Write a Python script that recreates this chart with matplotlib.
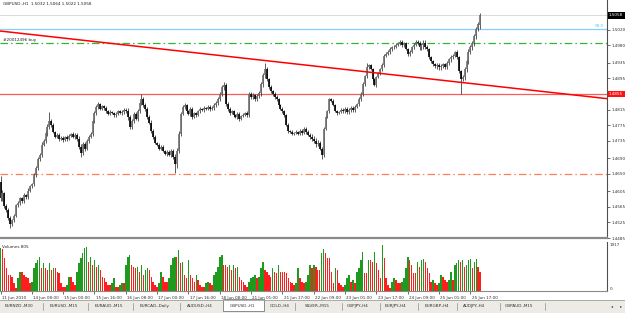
import matplotlib
matplotlib.use('Agg')
import matplotlib.pyplot as plt
from matplotlib.transforms import blended_transform_factory, ScaledTranslation
from matplotlib.patches import Rectangle
from matplotlib.lines import Line2D

# ---------------- data ----------------
title = "GBPUSD.,H1  1.5032 1.5064 1.5022 1.5058"

closes = [
    1.4587, 1.4600, 1.4567, 1.4556, 1.4536, 1.4521, 1.4531, 1.4541, 1.4569, 1.4574,
    1.4587, 1.4579, 1.4595, 1.4590, 1.4607, 1.4618, 1.4623, 1.4648, 1.4664, 1.4689,
    1.4699, 1.4725, 1.4735, 1.4755, 1.4771, 1.4786, 1.4776, 1.4758, 1.4745, 1.4750,
    1.4740, 1.4743, 1.4737, 1.4745, 1.4740, 1.4748, 1.4753, 1.4745, 1.4750, 1.4740,
    1.4720, 1.4704, 1.4727, 1.4715, 1.4735, 1.4745, 1.4753, 1.4786, 1.4806, 1.4822,
    1.4829, 1.4817, 1.4824, 1.4819, 1.4811, 1.4804, 1.4809, 1.4806, 1.4801, 1.4804,
    1.4811, 1.4806, 1.4809, 1.4814, 1.4811, 1.4796, 1.4771, 1.4786, 1.4804, 1.4791,
    1.4811, 1.4832, 1.4842, 1.4827, 1.4817, 1.4796, 1.4781, 1.4760, 1.4745, 1.4730,
    1.4725, 1.4715, 1.4720, 1.4709, 1.4702, 1.4707, 1.4699, 1.4709, 1.4694, 1.4674,
    1.4709, 1.4753, 1.4804, 1.4822, 1.4827, 1.4811, 1.4804, 1.4817, 1.4796, 1.4806,
    1.4801, 1.4811, 1.4817, 1.4814, 1.4819, 1.4817, 1.4822, 1.4817, 1.4819, 1.4827,
    1.4832, 1.4842, 1.4855, 1.4873, 1.4878, 1.4829, 1.4817, 1.4806, 1.4811, 1.4801,
    1.4796, 1.4804, 1.4791, 1.4799, 1.4801, 1.4806, 1.4801, 1.4855, 1.4847, 1.4852,
    1.4842, 1.4850, 1.4857, 1.4880, 1.4903, 1.4919, 1.4893, 1.4873, 1.4862, 1.4855,
    1.4847, 1.4842, 1.4827, 1.4817, 1.4811, 1.4801, 1.4776, 1.4760, 1.4758, 1.4753,
    1.4755, 1.4758, 1.4753, 1.4760, 1.4755, 1.4766, 1.4758, 1.4750, 1.4745, 1.4740,
    1.4735, 1.4727, 1.4730, 1.4715, 1.4699, 1.4766, 1.4796, 1.4811, 1.4842, 1.4837,
    1.4827, 1.4811, 1.4806, 1.4809, 1.4814, 1.4811, 1.4817, 1.4809, 1.4814, 1.4819,
    1.4814, 1.4822, 1.4829, 1.4842, 1.4855, 1.4880, 1.4901, 1.4924, 1.4929, 1.4919,
    1.4893, 1.4878, 1.4898, 1.4908, 1.4919, 1.4929, 1.4954, 1.4959, 1.4964, 1.4970,
    1.4975, 1.4977, 1.4982, 1.4985, 1.4990, 1.4980, 1.4985, 1.4970, 1.4957, 1.4964,
    1.4975, 1.4982, 1.4990, 1.4985, 1.4975, 1.4980, 1.4987, 1.4977, 1.4970, 1.4949,
    1.4939, 1.4931, 1.4926, 1.4929, 1.4924, 1.4926, 1.4931, 1.4924, 1.4934, 1.4944,
    1.4949, 1.4954, 1.4962, 1.4949, 1.4913, 1.4893, 1.4898, 1.4919, 1.4939, 1.4964,
    1.4975, 1.4985, 1.5003, 1.5021, 1.5036, 1.5058,
]
open_override = {0: 1.4630, 245: 1.5032}

# wick extension beyond the body, in pips
wick_pips = [
    6, 8, 4, 5, 6, 5, 4, 6, 3, 5, 4, 3, 5, 4, 6, 3, 4, 5, 6, 4,
    5, 6, 4, 7, 8, 6, 5, 4, 3, 4, 5, 3, 4, 3, 5, 4, 3, 4, 5, 6,
    7, 6, 5, 6, 4, 5, 4, 6, 5, 4, 5, 4, 3, 4, 5, 3, 4, 3, 4, 5,
    4, 3, 4, 5, 6, 7, 5, 6, 5, 4, 6, 5, 4, 5, 6, 5, 4, 6, 5, 4,
    3, 4, 5, 4, 3, 5, 4, 5, 6, 7, 8, 6, 5, 4, 5, 3, 4, 5, 4, 3,
    4, 3, 4, 3, 4, 3, 4, 5, 4, 5, 6, 5, 4, 6, 7, 6, 5, 4, 3, 4,
    3, 4, 5, 3, 4, 3, 6, 5, 4, 5, 4, 5, 6, 6, 7, 6, 5, 4, 5, 4,
    6, 5, 4, 3, 5, 4, 3, 4, 3, 4, 3, 4, 3, 4, 5, 4, 5, 4, 5, 6,
    6, 7, 6, 5, 4, 5, 4, 3, 4, 3, 4, 3, 4, 3, 4, 5, 4, 5, 6, 5,
    6, 5, 4, 5, 6, 5, 4, 5, 4, 3, 4, 3, 4, 3, 4, 5, 4, 3, 4, 5,
    4, 5, 4, 3, 4, 3, 4, 3, 4, 3, 4, 5, 4, 5, 6, 7, 8, 6, 5, 4,
    3, 4, 5, 6, 7, 6, 5, 4, 5, 4, 6, 5, 4, 5, 3, 4, 5, 6, 7, 6,
    5, 6, 7, 6, 5, 6,
]
spike_high = {0: 1.4645, 25: 1.4809, 72: 1.4855, 114: 1.4885, 135: 1.4936,
              187: 1.4936, 245: 1.5064}
spike_low = {5: 1.4511, 41: 1.4694, 89: 1.4651, 164: 1.4689, 235: 1.4855,
             245: 1.5022}

volumes = [
    1779, 1751, 1362, 945, 667, 667, 598, 320, 111, 528,
    806, 806, 667, 598, 528, 320, 389, 945, 1154, 1293,
    1432, 945, 1154, 945, 876, 1154, 876, 945, 945, 806,
    737, 320, 181, 181, 250, 598, 598, 389, 250, 806,
    1154, 1362, 1571, 1779, 1849, 1223, 1432, 1084, 1293, 1015,
    1084, 876, 598, 528, 389, 250, 250, 320, 528, 181,
    181, 250, 320, 320, 1084, 1432, 1501, 1084, 1015, 945,
    1015, 806, 1084, 667, 876, 945, 876, 598, 389, 250,
    181, 320, 806, 598, 389, 389, 528, 1084, 1362, 1432,
    1432, 1710, 1154, 1223, 667, 528, 1293, 667, 528, 389,
    667, 459, 250, 181, 181, 320, 389, 320, 250, 667,
    806, 1015, 1432, 1501, 1084, 1084, 1015, 1084, 876, 1084,
    945, 1015, 598, 459, 389, 250, 181, 389, 528, 598,
    667, 528, 598, 945, 1223, 876, 806, 667, 598, 945,
    806, 737, 1084, 806, 806, 806, 737, 528, 389, 320,
    250, 320, 945, 528, 389, 320, 389, 667, 1084, 945,
    1084, 1015, 876, 876, 1571, 1751, 1571, 1390, 1390, 806,
    320, 945, 876, 320, 250, 181, 250, 528, 667, 389,
    459, 320, 806, 945, 1293, 1640, 737, 737, 1293, 1293, 1223,
    1640, 1154, 876, 528, 1917, 1362, 528, 250, 111, 389,
    556, 459, 320, 320, 389, 528, 945, 1432, 1293, 1084,
    737, 737, 1223, 1015, 1293, 1334, 1223, 945, 737, 389, 459,
    320, 250, 320, 667, 598, 459, 389, 459, 806, 459,
    1084, 1154, 1293, 1223, 1293, 1015, 1084, 1293, 1334, 945, 1223,
    1334, 1015, 805,
]
volume_max_label = "1917"
volume_title = "Volumes 805"

price_ticks = [1.5020, 1.4980, 1.4935, 1.4895, 1.4815, 1.4775, 1.4735,
               1.4690, 1.4650, 1.4605, 1.4565, 1.4525, 1.4485]
bid_price = 1.5058
hline_red = 1.4855
hline_orange = 1.4650
hline_green = 1.4985
hline_blue = 1.5022
blue_label = "58.0"
order_label = "#20012496 buy"
trend_x = [-0.3, 310.0]
trend_y = [1.5017, 1.4843]

time_tick_bars = [0, 16, 32, 48, 64, 80, 96, 112, 128, 144, 160, 176, 192, 208, 224, 240]
time_labels = ["11 Jun 2010", "14 Jun 08:00", "15 Jun 00:00", "15 Jun 16:00",
               "16 Jun 08:00", "17 Jun 00:00", "17 Jun 16:00", "18 Jun 08:00",
               "21 Jun 01:00", "21 Jun 17:00", "22 Jun 09:00", "23 Jun 01:00",
               "23 Jun 17:00", "24 Jun 09:00", "25 Jun 01:00", "25 Jun 17:00"]

tab_names = ["EURNZD.,M30", "EURUSD.,M15", "EURAUD.,M15", "EURCAD.,Daily",
             "AUDUSD.,H4", "GBPUSD.,H1", "GOLD.,H4", "SILVER.,M15", "GBPJPY.,H4",
             "EURJPY.,H4", "EURGBP.,H4", "AUDJPY.,H4", "GBPAUD.,M15"]
active_tab = "GBPUSD.,H1"

# ---------------- layout ----------------
W, H = 625, 313
fig = plt.figure(figsize=(W / 100, H / 100), dpi=100)
fig.patch.set_facecolor('white')
FS = 3.0


def fx(x):
    return x / W


def fy(y):
    return 1 - y / H


PX_PER_BAR = 1.958
X0 = 0.5
AX_RIGHT = 607
xlim = ((0 - X0) / PX_PER_BAR, (AX_RIGHT - X0) / PX_PER_BAR)

n = min(len(closes), len(wick_pips), len(volumes))
idx = list(range(n))
opens = [open_override.get(i, closes[i - 1] if i > 0 else closes[0]) for i in idx]
highs, lows = [], []
for i in idx:
    hi = max(opens[i], closes[i]) + wick_pips[i] * 0.0001
    lo = min(opens[i], closes[i]) - wick_pips[i] * 0.0001
    highs.append(max(hi, spike_high.get(i, hi)))
    lows.append(min(lo, spike_low.get(i, lo)))

# main price axes
ax = fig.add_axes([0, fy(238), fx(AX_RIGHT), 238 / H])
ax.set_facecolor('white')
ax.set_xlim(*xlim)
ax.set_ylim(1.4485, 1.4485 + 238 * 0.000257)
for s in ['left', 'top']:
    ax.spines[s].set_visible(False)
ax.spines['right'].set_color('#505050')
ax.spines['right'].set_linewidth(0.8)
ax.spines['bottom'].set_color('#8a8a8a')
ax.spines['bottom'].set_linewidth(1.6)
ax.set_xticks([])
ax.yaxis.tick_right()
ax.set_yticks(price_ticks)
ax.set_yticklabels([f"{v:.4f}" for v in price_ticks])
ax.tick_params(axis='y', labelsize=FS, length=2, width=0.5, pad=1.5,
               colors='#303030')

# horizontal levels
ax.axhline(bid_price, color='#d4d4d4', lw=0.6, zorder=1)
ax.axhline(hline_blue, color='#87cefa', lw=0.9, zorder=1)
ax.axhline(hline_green, color='#2fb82f', lw=0.9, zorder=1,
           linestyle=(0, (6, 2.5, 1.2, 2.5)))
ax.axhline(hline_red, color='#ff5a5a', lw=0.9, zorder=1)
ax.axhline(hline_orange, color='#ff7f50', lw=0.9, zorder=1,
           linestyle=(0, (6, 2.5, 1.2, 2.5)))

# candles
up_c = '#6e6e6e'
dn_c = '#000000'
ax.vlines(idx, lows, highs, colors='#404040', linewidth=0.6, zorder=2)
body_colors = [up_c if closes[i] >= opens[i] else dn_c for i in idx]
ax.vlines(idx, opens, closes, colors=body_colors, linewidth=1.2, zorder=3)

# trend line
ax.plot(trend_x, trend_y, color='#ff0000', lw=1.1, zorder=4, solid_capstyle='butt')

blend = blended_transform_factory(ax.transAxes, ax.transData)
ax.text(3 / AX_RIGHT, hline_green + 0.0003, order_label, transform=blend,
        fontsize=FS, color='#202020', ha='left', va='bottom')
ax.text(595 / AX_RIGHT, hline_blue + 0.0002, blue_label, transform=blend,
        fontsize=FS, color='#6cc0f0', ha='left', va='bottom')
ax.text(1.0 + 2 / AX_RIGHT, bid_price, f"{bid_price:.4f}", transform=blend,
        fontsize=FS, color='white', ha='left', va='center', clip_on=False,
        bbox=dict(boxstyle='square,pad=0.35', fc='black', ec='none'))
ax.text(1.0 + 2 / AX_RIGHT, hline_red, f"{hline_red:.4f}", transform=blend,
        fontsize=FS, color='white', ha='left', va='center', clip_on=False,
        bbox=dict(boxstyle='square,pad=0.35', fc='#ff1010', ec='none'))
fig.text(fx(3), fy(4), title, fontsize=FS, color='#202020', ha='left', va='center')

# volume axes
VT, VB = 242, 291
axv = fig.add_axes([0, fy(VB), fx(AX_RIGHT), (VB - VT) / H])
axv.set_facecolor('white')
axv.set_xlim(*xlim)
vmax = 1917.0
axv.set_ylim(0, vmax * (VB - VT) / (VB - 245))
vcols = []
for i in idx:
    if i == 0 or volumes[i] > volumes[i - 1]:
        vcols.append('#1e9a1e')
    else:
        vcols.append('#ff1e1e')
axv.bar(idx, volumes[:n], width=0.78, color=vcols, linewidth=0, zorder=2)
for s in ['left', 'top']:
    axv.spines[s].set_visible(False)
axv.spines['right'].set_color('#505050')
axv.spines['right'].set_linewidth(0.8)
axv.spines['bottom'].set_color('#8a8a8a')
axv.spines['bottom'].set_linewidth(0.8)
axv.set_yticks([])
axv.text(2 / AX_RIGHT, 0.93, volume_title, transform=axv.transAxes,
         fontsize=FS, color='#202020', ha='left', va='top', zorder=5)
vblend = blended_transform_factory(axv.transAxes, axv.transData)
axv.text(1.0 + 3 / AX_RIGHT, vmax, volume_max_label, transform=vblend,
         fontsize=FS, color='#303030', ha='left', va='center', clip_on=False)
axv.text(1.0 + 3 / AX_RIGHT, 0, "0", transform=vblend,
         fontsize=FS, color='#303030', ha='left', va='bottom', clip_on=False)

axv.set_xticks(time_tick_bars)
axv.set_xticklabels(time_labels)
axv.tick_params(axis='x', labelsize=FS, length=2.5, width=0.5, pad=1.2,
                colors='#303030', direction='out')
for lab in axv.get_xticklabels():
    lab.set_horizontalalignment('left')
    lab.set_transform(lab.get_transform() + ScaledTranslation(1.2 / 100, 0, fig.dpi_scale_trans))

# tab bar
fig.patches.append(Rectangle((0, 0), 1, fy(300), transform=fig.transFigure,
                             fc='#ecebe6', ec='none', zorder=0))
fig.lines.append(Line2D([0, 1], [fy(300), fy(300)], transform=fig.transFigure,
                        color='#a0a0a0', lw=0.6))
tab_x = [5, 50, 95, 140, 187, 230, 270, 305, 347, 385, 425, 463, 505]
sep_x = [43, 88, 133, 180, 295, 342, 380, 418, 457, 500, 545]
for x in sep_x:
    fig.lines.append(Line2D([fx(x), fx(x)], [fy(303), fy(310)],
                            transform=fig.transFigure, color='#909090', lw=0.5))
for name, x in zip(tab_names, tab_x):
    if name == active_tab:
        fig.patches.append(Rectangle((fx(x - 7), fy(311)), fx(41), (311 - 299) / H,
                                     transform=fig.transFigure, fc='white',
                                     ec='#606060', lw=0.5, zorder=1))
    fig.text(fx(x), fy(306), name, fontsize=FS, color='#303030',
             ha='left', va='center', zorder=2)
fig.text(fx(612), fy(306), "\u25c2", fontsize=FS, color='#404040', ha='center', va='center')
fig.text(fx(621), fy(306), "\u25b8", fontsize=FS, color='#404040', ha='center', va='center')

fig.savefig('out.png', dpi=100, facecolor='white')
